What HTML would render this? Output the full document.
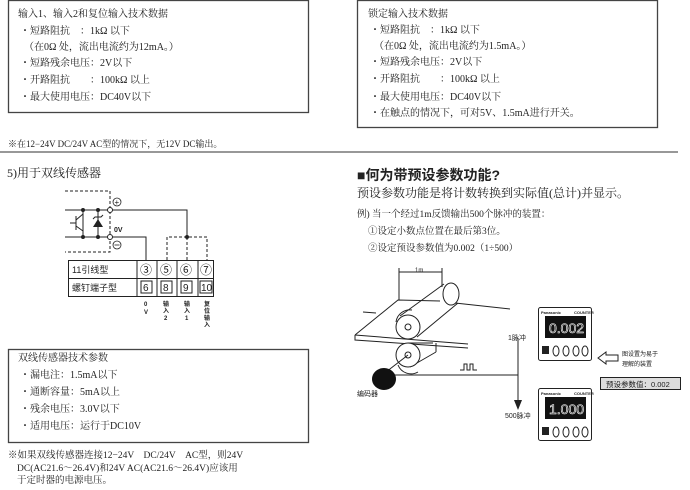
<!DOCTYPE html>
<html><head><meta charset="utf-8"><style>
html,body{margin:0;padding:0;background:#fff;}
svg{display:block;}
text{font-family:"Liberation Serif","Noto Serif CJK SC",serif;fill:#222;}
.s{font-family:"Liberation Sans","Noto Sans CJK SC",sans-serif;}
</style></head><body>
<svg width="690" height="490" viewBox="0 0 690 490" xmlns="http://www.w3.org/2000/svg">
<!-- top-left box -->
<rect x="8.5" y="0.5" width="300" height="112" fill="none" stroke="#444" stroke-width="1.3"/>
<g font-size="10">
<text x="18" y="17">输入1、输入2和复位输入技术数据</text>
<text x="20" y="34">・短路阻抗　：1kΩ 以下</text>
<text x="24" y="50">（在0Ω 处，流出电流约为12mA。）</text>
<text x="20" y="66">・短路残余电压：2V以下</text>
<text x="20" y="83">・开路阻抗　　：100kΩ 以上</text>
<text x="20" y="100">・最大使用电压：DC40V以下</text>
<text x="8" y="147" font-size="9">※在12−24V DC/24V AC型的情况下，无12V DC输出。</text>
</g>
<!-- top-right box -->
<rect x="357.5" y="0.5" width="300" height="127" fill="none" stroke="#444" stroke-width="1.3"/>
<g font-size="10">
<text x="368" y="17">锁定输入技术数据</text>
<text x="370" y="33">・短路阻抗　：1kΩ 以下</text>
<text x="374" y="49">（在0Ω 处，流出电流约为1.5mA。）</text>
<text x="370" y="65">・短路残余电压：2V以下</text>
<text x="370" y="82">・开路阻抗　　：100kΩ 以上</text>
<text x="370" y="100">・最大使用电压：DC40V以下</text>
<text x="370" y="116">・在触点的情况下，可对5V、1.5mA进行开关。</text>
</g>
<line x1="0" y1="152" x2="678" y2="152" stroke="#777" stroke-width="1.5"/>

<!-- section 5 -->
<text x="7" y="177" font-size="12">5)用于双线传感器</text>
<g stroke="#222" stroke-width="1" fill="none">
<path d="M65 191 H110 V252 H65" stroke-dasharray="3,2"/>
<line x1="65" y1="210" x2="108" y2="210"/>
<line x1="65" y1="237" x2="108" y2="237"/>
<path d="M112 210 H187 V237"/>
<path d="M112 237 H146 V260"/>
<path d="M167 260 V237 H207 V260" stroke-dasharray="3,2"/>
<line x1="187" y1="237" x2="187" y2="260" stroke-dasharray="3,2"/>
<circle cx="110" cy="210" r="2.5" fill="#fff"/>
<circle cx="110" cy="237" r="2.5" fill="#fff"/>
<line x1="83" y1="210" x2="83" y2="237"/>
<line x1="98" y1="210" x2="98" y2="237"/>
<line x1="70" y1="223" x2="76" y2="223"/>
<line x1="76" y1="216" x2="76" y2="230"/>
<line x1="76" y1="220" x2="83" y2="214"/>
<line x1="76" y1="226" x2="83" y2="231"/>
<path d="M93 219 l2 -2 h6 l2 -2"/>
</g>
<path d="M93 227 L98 219 L103 227 Z" fill="#222"/>
<g fill="#222">
<circle cx="83" cy="210" r="2"/><circle cx="98" cy="210" r="2"/>
<circle cx="83" cy="237" r="2"/><circle cx="98" cy="237" r="2"/>
<circle cx="187" cy="237" r="2"/>
</g>
<circle cx="117" cy="202" r="4" fill="none" stroke="#222" stroke-width="0.8"/>
<text x="114.5" y="205" font-size="8" class="s">+</text>
<circle cx="117" cy="245" r="4" fill="none" stroke="#222" stroke-width="0.8"/>
<line x1="114.5" y1="245" x2="119.5" y2="245" stroke="#222" stroke-width="0.8"/>
<text x="114" y="232" font-size="7" class="s" font-weight="bold">0V</text>
<!-- table -->
<g stroke="#222" stroke-width="1" fill="none">
<rect x="68.5" y="260.5" width="145" height="36"/>
<line x1="68" y1="278.5" x2="213" y2="278.5"/>
<line x1="137" y1="260" x2="137" y2="296"/>
<line x1="157" y1="260" x2="157" y2="296"/>
<line x1="177" y1="260" x2="177" y2="296"/>
<line x1="198" y1="260" x2="198" y2="296"/>
<rect x="141" y="281" width="11" height="12"/>
<rect x="161" y="281" width="11" height="12"/>
<rect x="181" y="281" width="11" height="12"/>
<rect x="200" y="281" width="12" height="12"/>
</g>
<g class="s" font-size="9">
<text x="72" y="273" class="s">11引线型</text>
<text x="72" y="291" class="s">螺钉端子型</text>
<text x="140" y="274" font-size="12" class="s">③</text>
<text x="160" y="274" font-size="12" class="s">⑤</text>
<text x="180" y="274" font-size="12" class="s">⑥</text>
<text x="200" y="274" font-size="12" class="s">⑦</text>
<text x="143" y="291" class="s" font-size="10">6</text>
<text x="163" y="291" class="s" font-size="10">8</text>
<text x="183" y="291" class="s" font-size="10">9</text>
<text x="201" y="291" class="s" font-size="10">10</text>
</g>
<g class="s" font-size="6" font-weight="bold">
<text x="144" y="306" class="s">0</text><text x="144" y="314" class="s">V</text>
<text x="163" y="306" class="s">输</text><text x="163" y="313" class="s">入</text><text x="164" y="320" class="s">2</text>
<text x="184" y="306" class="s">输</text><text x="184" y="313" class="s">入</text><text x="185" y="320" class="s">1</text>
<text x="204" y="306" class="s">复</text><text x="204" y="313" class="s">位</text><text x="204" y="320" class="s">输</text><text x="204" y="327" class="s">入</text>
</g>

<!-- bottom-left box -->
<rect x="8.5" y="349.5" width="300" height="93" fill="none" stroke="#444" stroke-width="1.3"/>
<g font-size="10">
<text x="18" y="361">双线传感器技术参数</text>
<text x="20" y="378">・漏电注：1.5mA以下</text>
<text x="20" y="395">・通断容量：5mA以上</text>
<text x="20" y="412">・残余电压：3.0V以下</text>
<text x="20" y="429">・适用电压：运行于DC10V</text>
<text x="8" y="458" font-size="9.5">※如果双线传感器连接12−24V　DC/24V　AC型，则24V</text>
<text x="17" y="471" font-size="9.5">DC(AC21.6～26.4V)和24V AC(AC21.6～26.4V)应该用</text>
<text x="17" y="483" font-size="9.5">于定时器的电源电压。</text>
</g>

<!-- right section -->
<text x="357" y="180" font-size="14" font-weight="bold" class="s">■何为带预设参数功能?</text>
<text x="357" y="197" font-size="12">预设参数功能是将计数转换到实际值(总计)并显示。</text>
<g font-size="9.5">
<text x="357" y="217">例) 当一个经过1m反馈输出500个脉冲的装置：</text>
<text x="368" y="234">①设定小数点位置在最后第3位。</text>
<text x="368" y="251">②设定预设参数值为0.002（1÷500）</text>
</g>
<!-- machine drawing -->
<g stroke="#222" stroke-width="1" fill="none">
<line x1="399" y1="268" x2="399" y2="300"/>
<line x1="442" y1="268" x2="442" y2="287"/>
<line x1="399" y1="272" x2="442" y2="272"/>
<path d="M355 335 L398 300 L440 301"/>
<path d="M455 303 L510 309"/>
<path d="M355 335 L355 340 L468 348"/>
<line x1="355" y1="335" x2="468" y2="344"/>
<path d="M400 316 L444 284 M417 337 L458 303"/>
<ellipse cx="451" cy="294" rx="8" ry="11" fill="#fff"/>
<circle cx="408" cy="327" r="12" fill="#fff"/>
<circle cx="408" cy="327" r="3"/>
<path d="M408 343 L433 343 M410 367 L436 352 M436 343 V352"/>
<circle cx="408" cy="355" r="12" fill="#fff"/>
<circle cx="408" cy="355" r="3"/>
<path d="M396 322 a14 14 0 0 1 16 -12"/>
<path d="M398 365 a14 14 0 0 0 20 7"/>
<line x1="363" y1="312" x2="376" y2="313"/>
<line x1="408" y1="355" x2="386" y2="372"/>
<path d="M394 375 H518"/>
<line x1="518" y1="338" x2="518" y2="402"/>
<path d="M460 370 h4 v-6 h3 v6 h3 v-6 h3 v6 h4"/>
</g>
<text x="415" y="272" font-size="6" class="s">1m</text>
<ellipse cx="384" cy="379" rx="12" ry="11" fill="#111"/>
<path d="M514 400 L522 400 L518 410 Z" fill="#222"/>
<text x="357" y="396" font-size="7" class="s">编码器</text>
<text x="508" y="340" font-size="7" class="s">1脉冲</text>
<text x="505" y="418" font-size="7" class="s">500脉冲</text>
<!-- counters -->
<g>
<rect x="538.5" y="307.5" width="53" height="53" rx="2" fill="#fff" stroke="#222"/>
<text x="541" y="314" font-size="4" class="s" font-weight="bold">Panasonic</text>
<text x="574" y="314" font-size="4" class="s" font-weight="bold">COUNTER</text>
<rect x="545" y="316" width="41" height="22" fill="#111"/>
<text x="549" y="333" font-size="14" class="s" style="fill:none" stroke="#fff" stroke-width="0.6">0.002</text>
<g fill="none" stroke="#222"><ellipse cx="556" cy="351" rx="3" ry="5"/><ellipse cx="566" cy="351" rx="3" ry="5"/><ellipse cx="576" cy="351" rx="3" ry="5"/><ellipse cx="585" cy="351" rx="3" ry="5"/></g>
<rect x="542" y="346" width="7" height="8" fill="#222"/>
</g>
<g>
<rect x="538.5" y="388.5" width="53" height="52" rx="2" fill="#fff" stroke="#222"/>
<text x="541" y="395" font-size="4" class="s" font-weight="bold">Panasonic</text>
<text x="574" y="395" font-size="4" class="s" font-weight="bold">COUNTER</text>
<rect x="545" y="397" width="41" height="22" fill="#111"/>
<text x="549" y="414" font-size="14" class="s" style="fill:none" stroke="#fff" stroke-width="0.6">1.000</text>
<g fill="none" stroke="#222"><ellipse cx="556" cy="432" rx="3" ry="5"/><ellipse cx="566" cy="432" rx="3" ry="5"/><ellipse cx="576" cy="432" rx="3" ry="5"/><ellipse cx="585" cy="432" rx="3" ry="5"/></g>
<rect x="542" y="427" width="7" height="8" fill="#222"/>
</g>
<path d="M598 358 L606 352 V355 H618 V361 H606 V364 Z" fill="#fff" stroke="#222"/>
<text x="622" y="356" font-size="6" class="s">图设置为易于</text>
<text x="622" y="366" font-size="6" class="s">理解的装置</text>
<rect x="600.5" y="377.5" width="80" height="12" fill="#ddd" stroke="#222"/>
<text x="606" y="387" font-size="7.5" class="s">预设参数值：0.002</text>
</svg>
</body></html>
